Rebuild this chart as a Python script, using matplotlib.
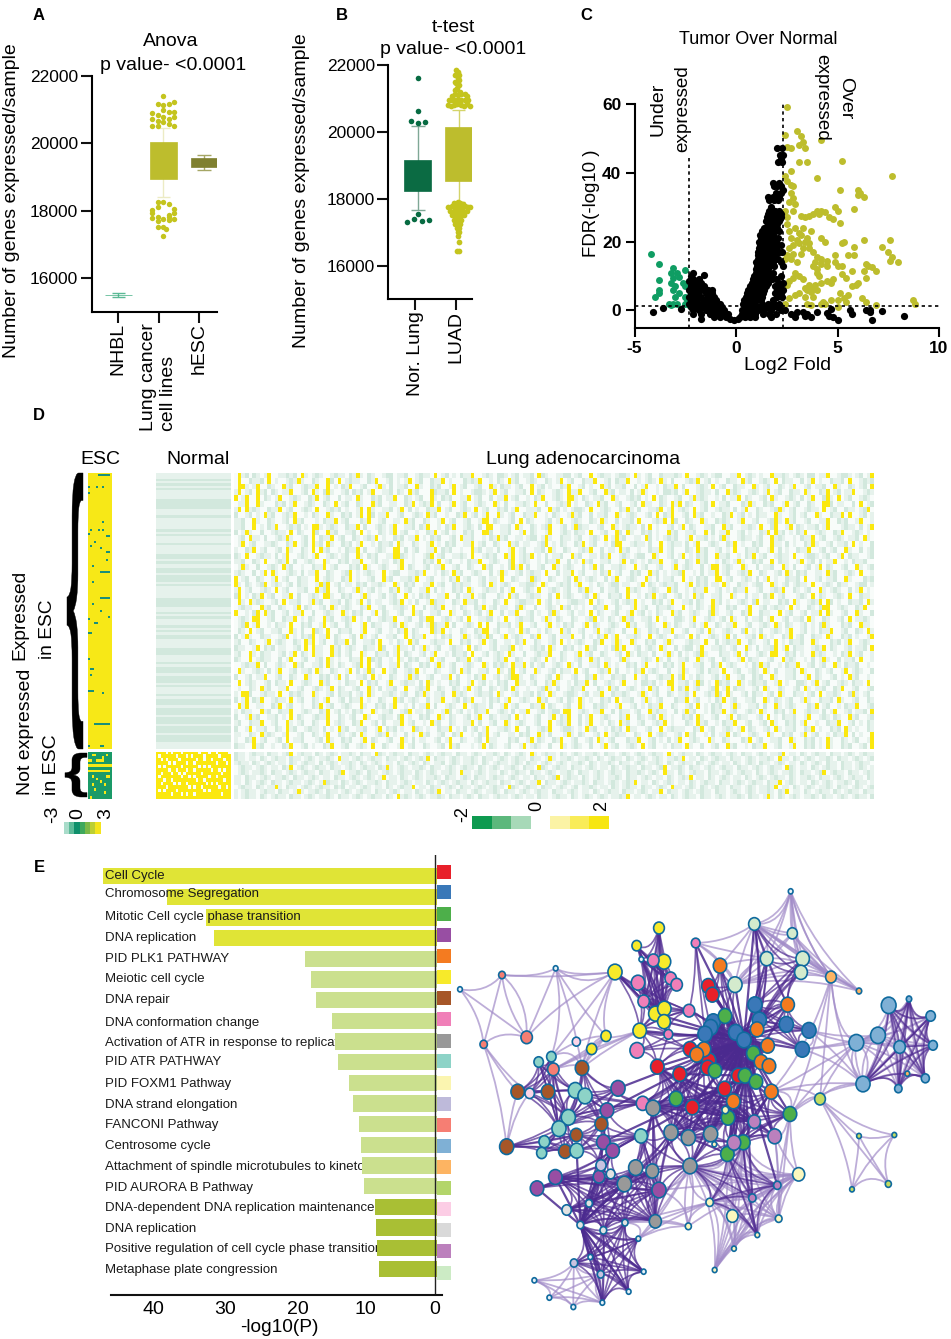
from itertools import combinations
import numpy as np
import matplotlib
matplotlib.use('Agg')
import matplotlib.pyplot as plt
from matplotlib.colors import to_rgb
from matplotlib.font_manager import FontProperties
from matplotlib.path import Path
from matplotlib.patches import PathPatch
from matplotlib.textpath import TextPath
from matplotlib.transforms import Affine2D

plt.rcParams['font.family'] = ['Liberation Sans', 'DejaVu Sans']
plt.rcParams['axes.unicode_minus'] = False

W, H = 951, 1339

# panel A
a_cats = ['NHBL', 'Lung cancer\ncell lines', 'hESC']
a_hi_x = [2.11, 2.38, 1.97, 2.11, 2.24, 2.11, 1.97, 2.24, 2.38, 1.83, 2.11, 1.83, 1.97, 2.24, 2.38, 2.11, 2.24, 2.38, 1.83, 1.97]
a_hi_y = [21393, 21224, 21174, 21124, 21154, 20985, 20856, 20935, 20935, 20905, 20786, 20726, 20657, 20726, 20786, 20627, 20587, 20527, 20507, 20527]
a_lo_x = [1.97, 2.11, 2.24, 1.83, 1.97, 2.38, 2.38, 2.24, 1.83, 1.97, 2.11, 2.24, 2.38, 1.97, 1.83, 2.24, 1.97, 2.11, 2.17, 2.11]
a_lo_y = [18269, 18269, 18199, 18020, 18119, 18040, 17920, 17871, 17771, 17821, 17751, 17721, 17751, 17692, 17920, 17821, 17522, 17522, 17443, 17254]

# panel B
b_cats = ['Nor. Lung', 'LUAD']
b_nor_x = [1.07, 1.07, 0.89, 1.07, 1.25, 0.8, 0.98, 1.07, 1.16, 1.35]
b_nor_y = [21622, 20627, 20338, 20279, 20289, 17313, 17403, 17543, 17343, 17363]
b_luad = [(2.0, 21850), (2.05, 21800), (1.98, 21700), (2.08, 21700), (2.05, 21600), (1.98, 21500), (2.08, 21550),
          (2.0, 21450), (2.08, 21400), (2.04, 21300), (1.98, 21250), (2.1, 21200),
          (1.9, 21080), (1.98, 21120), (2.06, 21100), (2.14, 21120), (2.22, 21120), (2.28, 21060),
          (1.84, 20950), (1.9, 20950), (1.98, 20950), (2.06, 20950), (2.14, 20950), (2.22, 20950), (2.3, 20950),
          (1.8, 20800), (1.88, 20780), (1.96, 20800), (2.04, 20820), (2.12, 20800), (2.2, 20780), (2.28, 20820), (2.34, 20790),
          (1.97, 17890), (2.05, 17920), (2.11, 17890), (2.19, 17860),
          (1.82, 17770), (1.9, 17790), (1.98, 17770), (2.06, 17790), (2.14, 17770), (2.22, 17790), (2.3, 17770), (2.36, 17760),
          (1.87, 17650), (1.95, 17650), (2.03, 17640), (2.11, 17660), (2.19, 17650), (2.27, 17640),
          (1.92, 17520), (1.99, 17530), (2.06, 17510), (2.13, 17520), (2.2, 17530),
          (1.95, 17380), (2.02, 17390), (2.08, 17370), (2.14, 17380),
          (1.99, 17250), (2.05, 17240), (2.11, 17250),
          (2.02, 17120), (2.08, 17130), (2.05, 17010), (2.09, 17000), (2.06, 16900),
          (2.07, 16710), (2.03, 16430), (2.08, 16430)]

# panel C
vol_green = [(-4.2, 16.3), (-3.8, 13.5), (-3.1, 12.3), (-2.5, 11.8), (-3.2, 11), (-2.9, 11), (-3.1, 9.5), (-2.8, 9.7),
             (-3.8, 8.8), (-3.2, 8), (-2.6, 8), (-3, 7), (-2.5, 7), (-3.8, 6), (-3.1, 6), (-2.3, 6.5), (-3.8, 5), (-4, 4),
             (-2.8, 5), (-3, 4), (-2.5, 4), (-2.4, 3), (-3.3, 1.8), (-3.1, 1.8), (-2.9, 2), (-2.5, 2), (-2.3, 1.5), (-3.2, 1.6)]
vol_yellow = [(2.5, 59), (2.4, 51), (3, 52), (3.2, 50.5), (4.2, 49.5), (3.3, 49), (3.1, 48), (2.5, 47.5), (2.7, 47), (3.4, 47),
              (3.1, 43), (3.5, 43.2), (5.2, 43.3), (2.7, 40.5), (2.4, 39), (2.5, 37.5), (2.7, 36.5), (2.8, 36), (4, 38.5), (7.7, 39),
              (5.1, 35), (6, 35), (6.1, 34), (6, 33.5), (6.3, 33), (2.7, 34), (2.8, 32.5), (2.6, 31.5), (2.9, 31), (5.8, 29.5),
              (2.4, 29), (2.8, 29), (4, 29), (4.2, 29), (4.4, 28.5), (4.9, 30), (5, 29), (2.5, 27), (3.2, 27.5), (3.4, 27),
              (3.6, 27.5), (3.8, 28), (4.1, 28), (4.6, 27), (4.8, 26.5), (5.1, 25.5), (2.5, 25), (2.9, 24), (3.3, 24), (3.1, 22.5),
              (2.6, 23), (3.7, 23), (3.2, 22), (3.5, 21), (2.7, 21), (3.0, 20.5), (3.4, 20), (3.1, 19.5), (2.8, 19), (3.6, 19.5),
              (4.2, 21), (4.4, 20), (5.3, 20), (5.2, 19.5), (6.3, 20.5), (7.6, 20.5), (3.3, 18), (2.6, 18), (7.2, 18.5), (5.8, 18.5),
              (3.8, 17), (3.6, 18), (7.5, 17), (2.8, 16.5), (3.2, 16.5), (2.5, 16), (4.9, 16), (5.5, 16), (5.8, 16), (7.7, 15.5),
              (4, 15.5), (4.2, 15), (2.4, 15), (2.7, 15), (3.9, 14), (4.5, 14.5), (7.6, 14.5), (8, 14), (4.9, 14), (4.2, 13.5),
              (3, 14), (6.4, 13.5), (5.2, 13), (3.8, 13), (4.5, 13), (4, 12), (5, 13), (6.5, 13), (6.7, 12.5), (5.7, 11.5),
              (6.3, 11.5), (6.9, 11.5), (2.9, 11), (4, 11), (3.1, 10), (5.2, 10.5), (2.8, 9.5), (4.1, 10), (5.4, 9.5), (6.4, 9.5),
              (4.8, 9), (3.3, 9), (2.6, 8.5), (4.5, 8.5), (4.2, 8), (4.7, 8), (6, 8), (5.9, 7.5), (5.7, 7), (3.6, 7.5),
              (3.9, 7.5), (2.5, 7.5), (3.8, 6.5), (3.4, 6.5), (3.5, 6), (3.7, 5.5), (4, 6), (3.1, 5), (2.9, 4.5), (3.4, 4),
              (3.8, 4), (5.1, 5), (5.5, 4.5), (5.3, 3.5), (6.2, 3.5), (6.4, 2.5), (8.7, 3), (8.8, 2), (2.6, 3.5), (2.4, 2),
              (3.5, 2), (4.3, 2.5), (4.7, 3), (4.4, 2), (5.0, 3), (5.4, 2.5), (6.9, 1.5), (5, 1), (4.2, 1.8), (3.7, 1.5)]
vol_black = [(-4.1, -0.5), (-3.6, 0.7), (-2.7, 0.5), (-2.1, 11), (-2.2, 10), (-1.6, 10.3), (-2.1, 9), (-1.8, 9), (-2.3, 8.5), (-2.0, 8),
             (-1.7, 8), (-2.2, 7), (-1.9, 7), (-1.6, 7), (-2.3, 6), (-2, 6), (-1.7, 6), (-1.4, 6), (-1.2, 5.8), (-2.2, 5), (-1.9, 5),
             (-1.5, 5), (-1.2, 5), (-2.3, 4), (-2, 4), (-1.7, 4), (-1.4, 4), (-1.1, 4), (-2.2, 3), (-1.9, 3), (-1.6, 3), (-1.3, 3),
             (-1, 3), (-2.3, 2), (-2, 2), (-1.7, 2), (-1.4, 2), (-1.1, 2), (-0.8, 2), (-2.2, 1), (-1.9, 1), (-1.6, 1), (-1.3, 1),
             (-1, 1), (-0.7, 1), (-2.1, 0), (-1.8, 0), (-1.5, 0), (-1.2, 0), (-0.9, 0), (-0.6, 0), (-2.1, -1), (-1.7, -1), (-1.3, -1),
             (-1, -1), (-0.7, -1), (-0.4, -1), (-1.7, -2.5), (-1.1, -2), (-0.8, -2), (-0.5, -2), (-0.3, -2.5), (-0.1, -2.8), (0.1, -2.5),
             (3, -0.5), (2.7, -1), (2.9, -2), (3.3, -0.5), (3.5, -1), (3.4, -1.7), (3.7, -2), (4, -0.3), (4.5, -0.8), (4.6, -1.5),
             (4.8, -2), (4.7, 0.5), (5, -2.7), (5.6, 0), (5.7, -1), (6.4, 0), (6.6, -0.5), (6.7, -2.8), (7.2, -0.2), (8.3, -1.5), (6.6, 0.2)]
wedge_y = [47, 45, 44, 43, 37, 36, 35, 34, 33, 32, 30, 29, 28, 27, 26, 25, 24, 23, 22, 21, 20, 19, 18, 17, 16, 15, 14, 13, 12, 11, 10, 9, 8, 7, 6, 5, 4, 3, 2, 1, 0, -1, -2]
wedge_x = [[2.0, 2.25], [2.15, 2.3], [2.2], [2.05, 2.25], [1.8, 2.1], [1.85, 2.0, 2.2], [2.3], [1.95, 2.2], [1.6, 1.8, 2.1],
           [1.65, 1.85, 2.05], [1.7], [1.65, 1.9, 2.1], [1.6, 1.8, 2.0, 2.2], [1.55, 1.75, 1.95, 2.2], [1.5, 1.7, 1.9, 2.1],
           [1.6, 1.8, 2.0], [1.4, 1.6, 1.8, 2.0], [1.3, 1.5, 1.7, 1.9, 2.1], [1.2, 1.4, 1.6, 1.8], [1.25, 1.45, 1.65, 1.85, 2.05],
           [1.15, 1.35, 1.55, 1.75, 1.95], [1.2, 1.4, 1.6, 1.8, 2.0, 2.2], [1.15, 1.35, 1.55, 1.75, 1.95],
           [1.1, 1.3, 1.5, 1.7, 1.9, 2.1, 2.25], [1.1, 1.3, 1.5, 1.7, 1.9], [1.1, 1.3, 1.5, 1.7, 1.9, 2.05], [1.0, 1.2, 1.4, 1.6, 1.8, 2.2],
           [1.05, 1.25, 1.45, 1.65, 1.85, 2.3], [1.0, 1.2, 1.4, 1.6], [1.0, 1.2, 1.4, 1.6, 1.8], [0.9, 1.1, 1.3, 1.5, 1.7, 2.2],
           [0.85, 1.05, 1.25, 1.45, 1.75, 1.95], [0.8, 1.0, 1.2, 1.4, 1.6, 2.1, 2.3], [0.7, 0.9, 1.1, 1.3, 1.5, 1.9, 2.15],
           [0.6, 0.8, 1.0, 1.2, 1.4, 2.0, 2.3], [0.55, 0.75, 0.95, 1.15, 1.35, 1.9, 2.2], [0.5, 0.7, 0.9, 1.1, 1.3, 2.0, 2.25],
           [0.4, 0.6, 0.8, 1.0, 1.25, 1.8], [0.35, 0.55, 0.75, 0.95, 1.3, 1.6, 1.85, 2.1], [0.45, 0.65, 0.85, 1.2, 1.5, 1.75, 2.0],
           [0.3, 0.55, 0.8, 1.1, 1.4, 1.7, 2.2, 2.4], [0.3, 0.5, 0.75, 0.95, 1.35, 1.65, 1.95], [0.2, 0.45, 0.7, 0.95, 1.7]]

# panel D, heat levels: 0 near white, 1 pale, 2 mint, 3 yellow, 4 pale yellow
luad_top = [
    "03120210130011212031012100121102131021001220112001211030120102113001210221012011203210011220120030121101221031012002111210300121012200113012101003112101210220113001221012013",
    "31021012301210120211001321012011021201121003102120011301200212110012031012100112210310012120130010210122011001302101211200130212011031002110122003101201211030012102110012201",
    "10312001211030021210031001202112012031001121012002131011200312100121120310012011202103100122101201130021121001310120021011203001211203100120211012031002110120301121002310120",
    "01203110200121310012010211301200210121301002120113010212001203112001021312001101220131002110120012103012120011032010121200130112010231001211012003121001021130120012101120310",
    "21100130212011001203021100312012100211032001211020131012001211030210012011230100121203100212010312001021130012012103100201220130011210120031020112001302110012130210012011203",
    "13012001202101130012031021100120212013001120210312000121120301001221013012001120302100121021130012003120110201310010221201300121102003121001210130120021103100212012011300121",
    "02103121001203011200131200112021013020110012130102001321100210311201002103001221103012010012211030210012012130100212013001120210031201001210230110021203100121301201002112031",
    "10211003120021130012100213012010212003101120012301102100132012010211300121020113001201220310012101130020211012003121100201312001021130120012103100212013001211020130012011203",
    "21030012110201300121013001210120031021200113021010012301200112103001212003100121301020112003120011021300121012200310012013010212003112001021301200121103001221012001302110012",
    "00121130200121003120011203102100123010120011302100212013101200121003102121001130201200121031020011203101002120130010212013001120021301210010213120010211300120120031021120010",
    "13001210021130120012103001212010013021001120130201002113012001210301200212013001112003120101221030012100213102001123010012103012001211020130021001231012001211030120021101230",
    "01210310012002113010210031200121301020012113001200213100121012030011220103001211200131021002100123010210131200112030100221013001210120310020112013001201120310021001203011210",
    "20013011200210312001211020103120011200130212010032101002113010201201300112103002001213001221010312001021203110012003012111002130120012101302100120310112002130100212031010021",
    "12100201303100121020113002100123010121003012200112130010210312001210020131001201211030020113012001021301200212003120101123001020113012001213002100120310212001103120012103001",
    "03012100120211030012100312001021103021200130012110203101002120013012010212003110120021310010211302001210130010221201030011201320100212003101211200130100221013012001210211030",
    "11200301021300121201003101210021130200121013001120213001021300121020130011203100210123001201321100120031012110203010012013021001120031200112103002100130210112013000121102013",
    "20131002110012301021200113021001203101200112003021130010212001310121020013012100213001201113002010213012001121003012100211030200121013020011203101002130120021103100212010013",
    "01002112030100121310021001203012110021300120101301200211301000212130010210312001210021013012002113001202113001012103102000121301201002110312001210302110020130100211203001212",
    "13012001210301200112003121002100131012010021301200113020100212031001211020130012103001210120021310020112003121001210031200102113001201021130012001213002101200310121002013010",
    "20100213001211030120021013001202113010021003120121002011300120213001021201300121003120012021031010021203011200131012000211301200102130120011200310210120013100211203100120021",
    "01301200112100213012001203100212013001021120310021001301021200113012002100312011001230102100213012001021300121102003012110201300121002130100212003110201002131001201120301002",
    "12003102110012013021001100312012003100211201302100120130010211203001201210310020012113002100130120021001203102110200131020101231000211013020012103100212010031210010213012001",
    "30120010210130012100213012002011031002120113002101200310212001130120020113012001021300121003102101120031001212010302100120013121001020113021001203100121020130021103012001210",
    "01211003120021001302100120310121002130012001121030020121300102100213012011002310020012103120101002113002100130120021121003010210131002120013001201211030100210231001210021300",
    "20013120011201030210012113002101200310012110230100212003102100120130021011203010012001302110020130012100213002101203101002120310012001302110012030102112001300121021003120012",
    "11200210300121302001210031002120113001201102130010021203012001021130012100230121001021130020103120011200130210102113001200210312001021013100212003021100130120201130010211200",
    "03100121020130012011203100210013020112003012001213010021001203120011200310210120031001202110301200121302001021301210020013100120211030012001210310200112031002101200130121002",
    "20012010312001213001021003100212013002011300120012103120010021301201200310120021130010210013120020112003101210012030211001203120010021301201021100310012012003100211303001201",
    "01230120010211030021200130120021001302110012031001201021130200121030100211201300120013010212001302100121003120012100310210012013002101130012001210310210012010231000212003110",
    "11002103121001300120021013002101203100121301002010312001200213001021301200110212003102000131021001203012110021003012100120312001020113021001210031002120013012001021130201003",
    "30120021001301200211003012100213010012003120011213001200102130120012011030021001321002100120310121002013001210031020112003010212001301200121020130100211203001201120031000212",
    "01002103120011300120012101302100120031020112003001213002100210130120021012031001001231020012113000210312001210103120010021301200120013021100120310021001203101120021300120012",
    "20131002001211030210012003120011203010021013012001002130120100212003120011200130210013001210211030012001203100212010031200112003020113001201002130012010213001210021300121010",
    "12002100130121002103100120021130200112030010210312000121103002120013012001102130021001203010121002130012100310021200131000121103002012113002100120301021120031000212013001210",
    "01310120021003120012113002010213001200131020112003100212001301200120031021101200301201002130012010031201120020130010211302000121030120021100310120021013001201120031002101203",
    "20010213012001130200121030100212001310012012003010212001130020113012000210312001211002030121001203100211203001021301200120103120011200310020110213012000121030210012103002110",
    "03120011002130120010021301200121003100212013001020113020012100301211020013012000211302100120031002121001300120102113002100120301021200131001120200310121000213012001021130012",
    "10021301200120310021010312001021130200121003102012001130212001003120110200130120011203100210012130020110312001002113012000210312001201030021120013020100211300120120031002012",
    "21003012110020130012001203101002113002120010310212001301200021130120001213002100121030102100120031201100231000121031020011200310120021001302110012003121001020131002011203001",
    "01120031000212013001210021030120021003120011002130121002001301200121003102001121030020012130100210312001200120311002100130210012030112000213100212001301200210031201100203012",
    "30010210312001201130020012100310212001302100120031200112003100210120130020113001201002310012011030210012001301201021003120012100231001200213002110030120012011302100120031002",
    "12002113001200310120021003012100213001202001130120010312002100113020012003101210012003012110020130010210312001200121301000210312001021130012001203100212013001002113001201021",
    "01310020012103120010021130120002120310012100130210012011300120021003120010211302001200310121002013020011210030120012001301210020130012100310020112003102001201302100120031012",
    "20012011300120021003100212013020011203010021001312001200113020010213001201203100210012031001200213010021120030120012110023010210012013001200212003100112001302100120103120010",
    "11200310021001203120001021130120002130012001103120021001301200120013102100120302100012013001210021031002011203000121301200210031002121001300120012010312001200113002120013001",
    "02103012001120031020012103002112001300120010213021000121301002100213001200110312001021003120012001301210020031002120113001200120310012100230102001210130012010211300120021031",
    "10021301200120301120001203100212001302100120031020110012013002100120311000212001302100213001200120310120002113001201020130012100310021000213012001120031002120103100210120013",
    "21100312001002130012010021300120012103002100130120021001203120001013021001200130121002003101210020013012001210301200102110310020012003120010211300120013002120103100212001203",
]
luad_order = [0, 17, 34, 5, 22, 39, 10, 27, 44, 15, 32, 3, 20, 37, 8, 25, 42, 13, 30, 1, 18, 35, 6, 23, 40,
              11, 28, 45, 16, 33, 4, 21, 38, 9, 26, 43, 14, 31, 2, 19, 36, 7, 24, 41, 12, 29, 46, 47]
luad_streak_col = [1, 3, 6, 21, 25, 36, 44, 53, 68, 75, 90, 103, 118, 130, 146, 160, 1, 6, 21, 25, 44, 53, 75, 103, 130, 160, 3, 36, 68, 90, 118, 146]
luad_streak_start = [1, 4, 2, 9, 1, 6, 12, 3, 7, 14, 2, 10, 5, 16, 8, 3, 20, 24, 27, 19, 30, 25, 33, 28, 36, 22, 38, 32, 26, 41, 35, 29]
luad_streak_end = [4, 7, 6, 14, 4, 9, 15, 6, 11, 17, 5, 13, 9, 19, 11, 6, 23, 27, 32, 22, 33, 28, 36, 31, 39, 25, 41, 35, 29, 44, 38, 32]
luad_bot = [
    "12110210121011021012110201210112102101210110210121021011201210112102101211012102110121012101121021011210211012101121021012110210121011021012102110121011021012102110211012110",
    "01211021011310211012101211021201101210110210121130110211012102110121012110321012110211012101201121011021012110211012103110121021012110211012101121301102101210112102110121012",
    "11021101210112102110121011021101210121013011021012101121021101210211012110121011021101230121102101210112102110121011021012130110210121011021012101211021011210211012101211021",
    "21101211021101230121102101210112102110321012110211012101211021101210112102101210310121102101210112102110121012101211031012110210121101210211012101123011021012110211012101211",
    "10121102101211021101210112102110121012110210312101210112102110121021101211012101102110121102101210121011213011012101102101211021101210112102110131021012101121021101210121102",
    "01211012101102130121012110211012101211021310121011210211012101211021012101121021103210121102110121011021012110211012301121021101210121102110121012110321011021012110211012101",
    "11021012102110121101210132110210121011210211012101102101210121102101211021101210113021101210112102110121012130110210121011021012110211012101211021130121011021012101121021101",
    "21101102101211021101210112103110121012110211012101213021101210112102110121012110211013101121011210210121102101210121011213011021012110211012101121031102101210112102110121012",
    "10121101211021101310112102110121012110211012101102101213011021101210112102110121012110211012101102101211021101210113021101210121102110121012101121021301102101211021012110211",
    "01210112102110121012110211012301121021101210121102101210112103110121011021012110211012101121021101210121102112101210311021012110211012101211021012101121021101230121102110121",
]
luad_bot_order = [3, 7, 0, 5, 9, 2, 6, 1, 8, 4]
normal_shades = "1112121211112222111211111212111211112212112212221211111222211212111212122111122211121222122212111212221222122212221222111"
normal_bot = [
    "333303033303333330333033033330",
    "303333330333030333303333303333",
    "330303333033333303303303333033",
    "333330303333033033333333033303",
    "303033333303333330303033333333",
    "333330330333033033333303303033",
    "330333033030333333033333330333",
    "303333333303303033333033033333",
    "333033033333333303303333333033",
    "330333303033033333330303033333",
    "333303333333303033033333303303",
    "303033330333333333303033333333",
    "333333033303033033333333330333",
    "333333333333333333333333333333",
]
esc_mark_row = [1, 7, 10, 7, 7, 25, 29, 29, 29, 31, 32, 35, 37, 38, 40, 44, 47, 50, 55, 63, 66, 70, 73, 74, 76, 81, 94, 99, 99, 102, 110, 111, 127, 138, 138]
esc_mark_start = [5, 0, 0, 4, 7, 7, 1, 5, 7, 0, 9, 3, 1, 6, 9, 9, 2, 6, 2, 6, 2, 6, 10, 0, 3, 0, 0, 1, 2, 1, 0, 7, 3, 0, 6]
esc_mark_end = [11, 1, 1, 5, 8, 8, 2, 6, 8, 1, 11, 4, 2, 7, 11, 10, 3, 11, 3, 11, 3, 7, 11, 1, 5, 2, 1, 2, 3, 2, 3, 8, 11, 1, 8]
esc_bot = [
    "555555555555", "553355555355", "555555535555", "335533335555", "555555555555", "333333333333",
    "555555555555", "333333333335", "555555555555", "553555555335", "555535555555", "555555355555",
    "553555553555", "555555555555", "555355555555", "555555553555", "555555555555", "535555555555",
]
esc_scale = ['#a9dcca', '#5cba98', '#0f8f6b', '#3ea85c', '#7cb947', '#bccf33', '#f4e41c']
d_scale_low = ['#0e9a50', '#5cb87c', '#a7d9b8']
d_scale_high = ['#fbf3a5', '#f9ec58', '#f7e610']

# panel E
terms = ['Cell Cycle', 'Chromosome Segregation', 'Mitotic Cell cycle phase transition', 'DNA replication',
         'PID PLK1 PATHWAY', 'Meiotic cell cycle', 'DNA repair', 'DNA conformation change',
         'Activation of ATR in response to replication stress', 'PID ATR PATHWAY', 'PID FOXM1 Pathway',
         'DNA strand elongation', 'FANCONI Pathway', 'Centrosome cycle',
         'Attachment of spindle microtubules to kinetochore', 'PID AURORA B Pathway',
         'DNA-dependent DNA replication maintenance checkpoint', 'DNA replication',
         'Positive regulation of cell cycle phase transition', 'Metaphase plate congression']
logp = [47, 38, 32.4, 31.3, 18.4, 17.5, 16.8, 14.5, 14.2, 13.7, 12.2, 11.6, 10.8, 10.4, 10.3, 10, 8.4, 8.3, 8.2, 7.9]
bar_colors = ['#e0e436'] * 4 + ['#cbe08e'] * 12 + ['#a9bf34'] * 4
label_nudge = [0, -0.14, 0, 0, 0, 0, 0, 0.1, 0.08, 0, 0.07, 0.07, 0.07, 0.07, 0.07, 0.07, 0.08, 0.08, 0.06, 0.07]
term_colors = ['#e8202a', '#3a78b8', '#4daf4a', '#984ea3', '#f47b20', '#f7ea2a', '#a65628', '#f07fb8', '#999999', '#8dd3c7',
               '#fbf5b0', '#bebada', '#f67e73', '#7fb0d5', '#fdb462', '#b3d56a', '#fccde5', '#d9d9d9', '#bc80bd', '#ccebc5']
swatch_px = [872, 892, 914, 935, 956, 977, 998, 1019, 1041, 1061, 1083, 1104, 1125, 1146, 1167, 1188, 1209, 1230, 1251, 1273]
e_ticks = [39.9, 29.7, 19.4, 9.8, 0]
e_tick_labels = ['40', '30', '20', '10', '0']

# network layout
node_x = [745, 757, 690, 592, 659, 747, 743, 835, 794, 697,
          885, 898, 979, 1047, 1027, 760, 752, 735, 827, 852,
          795, 880, 765, 855, 888, 648, 990, 804, 850, 802,
          780, 983, 891, 923, 732, 710, 903, 927, 934, 820,
          597, 530, 612, 465, 586, 613, 612, 539, 438, 395,
          707, 580, 534, 632, 650, 551, 687, 625, 531, 548,
          366, 173, 264, 424, 349, 315, 140,
          474, 441, 430, 458, 417, 286, 231, 597,
          274, 236, 346, 375, 325, 297, 253, 245, 350, 543,
          126, 200, 71, 280,
          579, 633, 685, 752, 690, 527, 577, 493, 586,
          1286, 1347, 1412, 1254, 1189, 1319, 1419, 1209, 1396, 1315,
          1113, 1197, 1342,
          1080, 1197, 1303, 1285, 1176,
          883, 997, 920, 1028, 1023, 825,
          883, 944, 822, 952, 877,
          1016, 749, 817, 956, 685, 892, 822, 764, 763,
          423, 342, 422, 796,
          452, 320, 387, 361, 430, 495, 535,
          209, 349,
          287, 0, 992, 544, 391, 551, 506, 427, 340, 268, 223]
node_y = [318, 344, 507, 560, 582, 541, 563, 587, 626, 682,
          374, 420, 433, 451, 508, 425, 442, 462, 457, 480,
          408, 520, 572, 587, 605, 656, 702, 713, 787, 822,
          257, 374, 448, 497, 508, 524, 546, 558, 635, 664,
          144, 197, 245, 276, 401, 386, 425, 452, 468, 507,
          189, 241, 308, 295, 314, 364, 392, 463, 511, 670,
          564, 635, 635, 732, 765, 814, 800,
          625, 691, 786, 812, 890, 891, 925, 930,
          530, 546, 631, 648, 712, 746, 785, 819, 812, 768,
          285, 472, 493, 568,
          684, 757, 773, 762, 858, 863, 873, 912, 1024,
          376, 357, 408, 466, 488, 501, 496, 612, 595, 626,
          291, 333, 581,
          657, 768, 765, 912, 928,
          132, 160, 236, 236, 277, 314,
          725, 769, 788, 916, 954,
          883, 967, 1008, 1016, 1039, 1065, 1106, 1170, 793,
          856, 1149, 1183, 690,
          882, 990, 970, 1035, 1051, 1028, 1076,
          640, 485,
          265, 328, 34, 238, 1131, 1175, 1235, 1268, 1281, 1253, 1201]
node_group = ('r' * 10 + 'b' * 10 + 'g' * 10 + 'o' * 10 + 'y' * 10 + 'p' * 10 + 'B' * 7 + 'u' * 8 + 't' * 10 + 's' * 4 + 'G' * 9
              + 'L' * 10 + 'O' * 3 + 'i' * 5 + 'e' * 6 + 'm' * 5 + 'Y' * 9 + 'l' * 3 + 'Y' + 'a' * 7 + 'k' * 2 + 'w' * 11)
node_r = [20] * 10 + [21] * 10 + [20] * 10 + [20] * 10 + [16, 14, 20, 21, 20, 20, 19, 20, 15, 15] \
    + [13, 17, 20, 17, 17, 17, 17, 13, 21, 19] + [20, 20, 20, 19, 18, 19, 21] + [21, 20, 20, 20, 17, 20, 20, 21] \
    + [14, 14, 21, 21, 21, 21, 16, 15, 20, 19] + [10, 17, 11, 17] + [21, 21, 21, 21, 21, 21, 19, 21, 18] \
    + [22, 8, 14, 22, 22, 17, 13, 21, 12, 11] + [16, 8, 7] + [16, 7, 7, 9, 7] + [17, 15, 19, 20, 19, 21] \
    + [18, 20, 20, 11, 11] + [18, 11, 17, 10, 9, 7, 7, 7, 7] + [15, 11, 10, 10] + [13, 14, 10, 10, 10, 9, 7] + [14, 12] + [7] * 11
group_colors = {'r': '#e8202a', 'b': '#3a78b8', 'g': '#4daf4a', 'o': '#f47b20', 'y': '#f7ea2a', 'p': '#f07fb8',
                'B': '#a65628', 'u': '#984ea3', 't': '#8dd3c7', 's': '#f67e73', 'G': '#999999', 'L': '#7fb0d5',
                'O': '#fdb462', 'i': '#c3dc62', 'e': '#d4ebcd', 'm': '#bc80bd', 'Y': '#fbf7bd', 'l': '#c9c3e0',
                'a': '#e2e2e2', 'k': '#fcd5e8', 'w': '#e8f2f8'}
dark_cliques = [
    [15, 16, 17, 18, 19, 20, 21, 32, 33, 36, 37, 23, 24, 7, 22, 5, 6, 34, 35, 2],
    [10, 11, 31, 12, 13, 14, 18, 19], [30, 0, 1, 121, 20, 18], [116, 118, 119, 120, 11, 10, 32, 31],
    [50, 56, 17, 16], [40, 41, 42, 51, 53, 54, 44, 45, 46, 55, 152], [43, 52, 55, 47, 44, 45, 46, 57, 56],
    [47, 58, 57, 2, 17, 3], [3, 4, 34, 9, 25, 89, 59, 90, 91, 92, 27, 39, 8, 122], [27, 28, 29, 124, 122, 123, 39, 8, 26, 38],
    [93, 92, 91, 90, 27, 29, 124], [60, 77, 78, 79, 80, 63, 68, 67, 59], [61, 62, 147, 76, 75, 88, 77, 79, 80],
    [66, 80, 79, 81, 64, 65, 82, 83], [68, 69, 70, 63, 64, 83, 84, 136], [71, 72, 73, 136, 140, 70, 96],
    [71, 141, 142, 143, 144, 145, 72, 97, 74, 96, 94, 95], [144, 143, 153, 138, 137, 154, 155, 156, 145, 146],
    [94, 95, 90, 84, 89, 96, 74, 97, 93], [98, 100, 103, 104, 105, 106, 107, 99], [128, 132, 126, 125, 93, 29, 28],
]
light_cliques = [
    [138, 156, 157, 158, 159, 137], [98, 99, 100, 101, 102, 103, 104, 105, 106, 107], [14, 13, 101, 102, 105],
    [111, 112, 113, 114, 115], [85, 86, 87, 150], [85, 149, 43, 86], [149, 75, 60, 48, 43], [48, 49, 88, 60, 47],
    [108, 109, 116, 117, 119, 120, 121, 151], [151, 116, 117, 118, 108], [111, 38, 26, 108, 105, 102],
    [128, 129, 130, 132, 133, 134, 126, 125, 127, 93, 29, 28], [131, 128, 97, 145, 146, 93], [130, 125, 123, 127, 26],
    [50, 30, 116, 118, 121], [87, 147, 61, 66], [74, 131, 93, 127],
]
star_hubs = [19, 23, 143]
star_leaves = [
    [10, 11, 30, 0, 1, 121, 116, 118, 56, 50, 44, 46, 47, 3, 4, 25, 9, 89, 59, 67, 68, 90, 91, 92, 93, 27, 29, 122, 123, 26, 38, 12, 14],
    [31, 33, 38, 26, 39, 27, 28, 29, 122, 123, 124, 8, 9, 4, 92, 93, 96, 69, 70, 125, 126],
    [71, 136, 140, 156, 138, 153, 154, 155, 72, 96, 73, 69, 70, 83],
]


def pix_axes(left, top, right, bottom):
    ax = fig.add_axes([left / W, 1 - bottom / H, (right - left) / W, (bottom - top) / H])
    return ax


def style_prism(ax, y_ticks, cats):
    ax.set_ylim(15000, 22000)
    ax.set_yticks(y_ticks)
    ax.set_xticks(range(1, len(cats) + 1))
    ax.set_xticklabels(cats, rotation=90, ma='left', fontsize=14, linespacing=1.25)
    ax.tick_params(axis='y', length=7.7, width=1.5, labelsize=12.5, pad=2, color='#111111')
    ax.tick_params(axis='x', length=7.7, width=1.5, pad=0.5, color='#111111')
    ax.spines['top'].set_visible(False)
    ax.spines['right'].set_visible(False)
    ax.spines['left'].set_linewidth(1.5)
    ax.spines['bottom'].set_linewidth(1.5)
    ax.patch.set_alpha(0)


def box(ax, x, q1, q3, lo, hi, color, wcolor, width):
    ax.vlines(x, lo, hi, color=wcolor, lw=1, zorder=2)
    ax.hlines([lo, hi], x - width / 4, x + width / 4, color=wcolor, lw=1, zorder=2)
    ax.bar(x, q3 - q1, width=width, bottom=q1, color=color, edgecolor=color, lw=0.5, zorder=3)


fig = plt.figure(figsize=(W / 100, H / 100), dpi=100, facecolor='white')

# A
ax_a = pix_axes(91.7, 76, 216.7, 311.7)
ax_a.set_xlim(0.343, 3.43)
style_prism(ax_a, [16000, 18000, 20000, 22000], a_cats)
box(ax_a, 1, 15490, 15510, 15440, 15570, '#3fae82', '#5bb995', 0.66)
box(ax_a, 2.11, 18950, 20030, 18400, 20450, '#bdbd2d', '#ecebc4', 0.66)
box(ax_a, 3.12, 19290, 19570, 19200, 19650, '#7f8030', '#a5a665', 0.66)
ax_a.scatter(a_hi_x + a_lo_x, a_hi_y + a_lo_y, s=15, color='#c4c41e', lw=0, zorder=4)

# B
ax_b = pix_axes(388.3, 65, 471.7, 299.3)
ax_b.set_xlim(0.344, 2.393)
style_prism(ax_b, [16000, 18000, 20000, 22000], b_cats)
box(ax_b, 1.07, 18230, 19150, 17680, 20180, '#0b6b43', '#7fa896', 0.656)
box(ax_b, 2.07, 18520, 20160, 17900, 20660, '#bdbd2d', '#d4d46a', 0.656)
ax_b.scatter(b_nor_x, b_nor_y, s=16, color='#076b42', lw=0, zorder=4)
luad_x, luad_y = zip(*b_luad)
ax_b.scatter(luad_x, luad_y, s=17, color='#c4c41e', lw=0, zorder=4, clip_on=False)

# C
ax_c = pix_axes(634.5, 103.7, 939, 327.7)
ax_c.set_xlim(-5, 10)
ax_c.set_ylim(-5, 60)
for pts, col in [(vol_green, '#0f9d63'), (vol_yellow, '#bdbd2d')]:
    xs, ys = zip(*pts)
    ax_c.scatter(xs, ys, s=25, color=col, lw=0, zorder=3, clip_on=False)
wx = [v for row in wedge_x for v in row]
wy = [y for y, row in zip(wedge_y, wedge_x) for v in row]
bx, by = zip(*vol_black)
ax_c.scatter(list(bx) + wx, list(by) + wy, s=27, color='black', lw=0, zorder=4, clip_on=False)
ax_c.plot([-2.3, -2.3], [-5, 45], color='black', lw=1.2, ls=(0, (2, 2)), zorder=5)
ax_c.plot([2.3, 2.3], [-5, 60], color='black', lw=1.2, ls=(0, (2, 2)), zorder=5)
ax_c.plot([-5, 10], [1.2, 1.2], color='black', lw=1.2, ls=(0, (2, 2)), zorder=5)
ax_c.set_xticks([-5, 0, 5, 10])
ax_c.set_yticks([0, 20, 40, 60])
ax_c.tick_params(length=6.5, width=1.5, labelsize=12.5, pad=3)
for lab in ax_c.get_xticklabels() + ax_c.get_yticklabels():
    lab.set_fontweight('bold')
ax_c.spines['top'].set_visible(False)
ax_c.spines['right'].set_visible(False)
ax_c.spines['left'].set_linewidth(1.5)
ax_c.spines['bottom'].set_linewidth(1.5)
ax_c.patch.set_alpha(0)

# D heatmaps
heat_colors = ['#f8fcfa', '#e6f2ec', '#d2e8dd', '#fbe80f', '#fbf4a0']
esc_colors = ['#f6fbf8', '#1a8f7a', '#cbe5d8', '#f7e817', '#fbf4a0', '#1a9a68']


def to_matrix(rows):
    n = max(len(r) for r in rows)
    return np.array([[int(c) for c in r.ljust(n, '1')] for r in rows])


def heat(left, top, right, bottom, mat, colors=heat_colors, interp='nearest'):
    ax = pix_axes(left, top, right, bottom)
    palette = np.array([to_rgb(c) for c in colors])
    ax.imshow(palette[mat], aspect='auto', interpolation=interp)
    ax.axis('off')
    return ax


luad_mat = to_matrix([luad_top[i] for i in luad_order])
for c, s, e in zip(luad_streak_col, luad_streak_start, luad_streak_end):
    luad_mat[s:e, c] = 3
heat(234, 472.7, 873, 749.3, luad_mat)
heat(234, 751.7, 873, 799.3, to_matrix([luad_bot[i] for i in luad_bot_order]))
heat(156, 472.7, 230.3, 749.3, to_matrix(list(normal_shades)))
heat(156, 751.7, 230.3, 799.3, to_matrix(normal_bot))

esc_top = np.full((140, 12), 3)
for r, s, e in zip(esc_mark_row, esc_mark_start, esc_mark_end):
    esc_top[r, s:e] = 1
heat(88.3, 472.7, 111.7, 749.3, esc_top, esc_colors)
heat(88.3, 751.7, 111.7, 799.3, to_matrix(esc_bot), esc_colors)

# E bars
ax_e = pix_axes(100, 855, 452, 1295)
ax_e.set_xlim(47.46, -2.45)
ax_e.set_ylim(20.27, -1.016)
ypos = np.arange(len(terms))
ax_e.barh(ypos, np.array(logp) + 0.35, left=-0.35, height=0.79, color=bar_colors, zorder=2)
for i, term in enumerate(terms):
    ax_e.text(46.75, i + label_nudge[i], term, fontsize=9.5, va='center', ha='left', color='#1a1a1a',
              zorder=3 if i < 3 else 1, clip_on=True)
ax_e.axvline(0, color='#222222', lw=1, zorder=4)
ax_e.plot([45.9, -1], [20.27, 20.27], color='#111111', lw=1.5, clip_on=False, zorder=4)
ax_e.set_xticks(e_ticks)
ax_e.set_xticklabels(e_tick_labels)
ax_e.tick_params(axis='x', length=0, labelsize=14, pad=4)
ax_e.set_yticks([])
for s in ax_e.spines.values():
    s.set_visible(False)
ax_e.patch.set_alpha(0)

# network
ax_n = pix_axes(460, 880, 951, 1320)
ax_n.set_xlim(0, 1473)
ax_n.set_ylim(1320, 0)
ax_n.axis('off')


def draw_edge(a, b, cx, cy, color, lw, alpha, pull=0.4):
    x0, y0, x1, y1 = node_x[a], node_y[a], node_x[b], node_y[b]
    ctrl = ((1 - pull) * (x0 + x1) / 2 + pull * cx, (1 - pull) * (y0 + y1) / 2 + pull * cy)
    ax_n.add_patch(PathPatch(Path([(x0, y0), ctrl, (x1, y1)], [Path.MOVETO, Path.CURVE3, Path.CURVE3]),
                             fc='none', ec=color, lw=lw, alpha=alpha, zorder=1))


def draw_clique(members, color, lw, alpha):
    cx = np.mean([node_x[m] for m in members])
    cy = np.mean([node_y[m] for m in members])
    for a, b in combinations(members, 2):
        draw_edge(a, b, cx, cy, color, lw, alpha)


for members in light_cliques:
    draw_clique(members, '#a18bc8', 1.3, 0.7)
for members in dark_cliques:
    draw_clique(members, '#512d92', 1.25, 0.72)
for hub, leaves in zip(star_hubs, star_leaves):
    for leaf in leaves:
        draw_edge(hub, leaf, node_x[hub], node_y[hub], '#4b2a8f', 1.6, 0.85, 0.15)

oval = Path.unit_circle().transformed(Affine2D().scale(0.9, 1))
sizes = [(r * 2 / 3 * 0.72 * 1.12) ** 2 for r in node_r]
ax_n.scatter(node_x, node_y, s=sizes, c=[group_colors[g] for g in node_group], marker=oval,
             edgecolors='#0f6a9e', linewidths=1.2, zorder=3, clip_on=False)

# overlay in pixel coordinates for labels, braces and colour keys
ov = fig.add_axes([0, 0, 1, 1])
ov.set_xlim(0, W)
ov.set_ylim(H, 0)
ov.axis('off')
ov.patch.set_alpha(0)

ov.barh(swatch_px, 14.3, left=436.7, height=14.5, color=term_colors, zorder=2)
ov.bar(np.arange(7) * 5.25 + 66.6, 12, width=5.25, bottom=821.5, color=esc_scale)
ov.bar(np.arange(3) * 19.6 + 481.8, 13, width=19.6, bottom=815.7, color=d_scale_low)
ov.bar(np.arange(3) * 19.6 + 559.8, 13, width=19.6, bottom=815.7, color=d_scale_high)


def brace(top, bottom, xl, xr):
    # a stretched curly bracket glyph, flipped because the overlay y axis runs down
    tp = TextPath((0, 0), '{', size=1, prop=FontProperties(family='Liberation Sans', weight='bold'))
    ext = tp.get_extents()
    tr = Affine2D().translate(-ext.x0, -ext.y0).scale((xr - xl) / ext.width, -(bottom - top) / ext.height).translate(xl, bottom)
    ov.add_patch(PathPatch(tp.transformed(tr), fc='black', ec='black', lw=0.3))


brace(473, 749, 67, 83)
brace(753, 797, 65, 87)

for txt, x, y in [('A', 39, 15), ('B', 342, 15), ('C', 586, 15), ('D', 39, 416), ('E', 39, 867)]:
    ov.text(x, y, txt, fontsize=12, fontweight='bold', ha='center', va='center')

ov.text(171, 42, 'Anova', fontsize=14, ha='center', va='center')
ov.text(173, 65, 'p value- <0.0001', fontsize=14, ha='center', va='center')
ov.text(453, 27, 't-test', fontsize=14, ha='center', va='center')
ov.text(453, 50, 'p value- <0.0001', fontsize=14, ha='center', va='center')
ov.text(12, 201, 'Number of genes expressed/sample', fontsize=14, rotation=90, ha='center', va='center')
ov.text(301, 191, 'Number of genes expressed/sample', fontsize=14, rotation=90, ha='center', va='center')
ov.text(758, 40, 'Tumor Over Normal', fontsize=13, ha='center', va='center')
ov.text(592, 203, 'FDR(-log10 )', fontsize=13.4, rotation=90, ha='center', va='center')
ov.text(788, 366, 'Log2 Fold', fontsize=14, ha='center', va='center')
ov.text(658, 109, 'Under', fontsize=14, rotation=90, ha='center', va='center')
ov.text(683, 109, 'expressed', fontsize=13.6, rotation=90, ha='center', va='center')
ov.text(822, 97, 'expressed', fontsize=13.6, rotation=270, ha='center', va='center')
ov.text(846, 98, 'Over', fontsize=14, rotation=270, ha='center', va='center')

ov.text(100, 459, 'ESC', fontsize=14, ha='center', va='center')
ov.text(198, 460, 'Normal', fontsize=14, ha='center', va='center')
ov.text(583, 460, 'Lung adenocarcinoma', fontsize=14, ha='center', va='center')
ov.text(20, 615, 'Expressed', fontsize=13.8, rotation=90, ha='center', va='center')
ov.text(48, 629, 'in ESC', fontsize=13.8, rotation=90, ha='center', va='center')
ov.text(25, 732, 'Not expressed', fontsize=14, rotation=90, ha='center', va='center')
ov.text(52, 765, 'in ESC', fontsize=14, rotation=90, ha='center', va='center')
ov.text(53, 814, '-3', fontsize=14, rotation=90, ha='center', va='center')
ov.text(78, 814, '0', fontsize=14, rotation=90, ha='center', va='center')
ov.text(106, 814, '3', fontsize=14, rotation=90, ha='center', va='center')
ov.text(463, 814, '-2', fontsize=13, rotation=90, ha='center', va='center')
ov.text(537, 806, '0', fontsize=13, rotation=90, ha='center', va='center')
ov.text(602, 806, '2', fontsize=13, rotation=90, ha='center', va='center')
ov.text(279, 1327.5, '-log10(P)', fontsize=13.8, ha='center', va='center')

fig.savefig('out.png', dpi=100, facecolor='white')
